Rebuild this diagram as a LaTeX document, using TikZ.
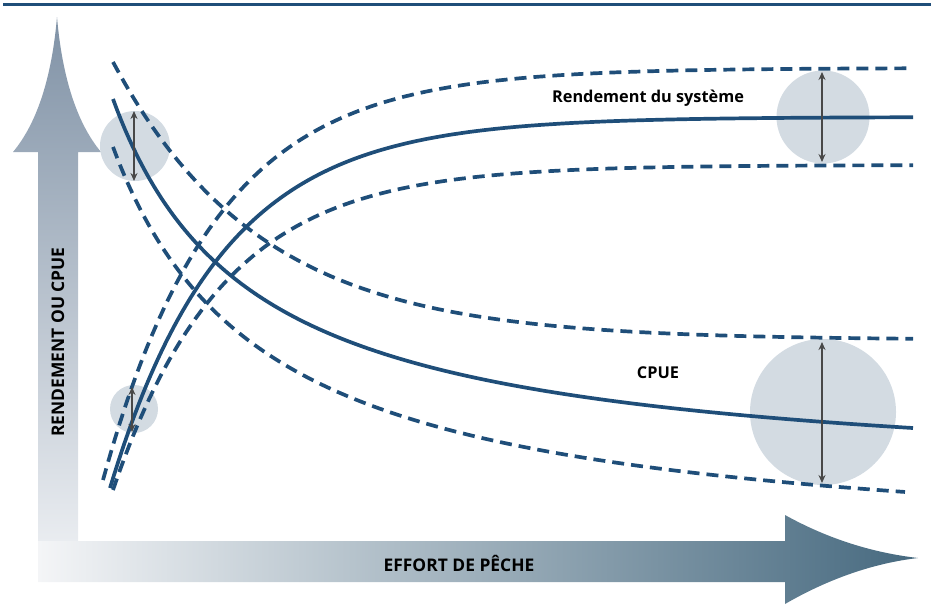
\documentclass[tikz,border=0pt]{standalone}
\usepackage{fontspec}
\setmainfont{Open Sans}
\usetikzlibrary{arrows.meta}
\definecolor{curve}{RGB}{31,78,121}
\definecolor{bubble}{RGB}{211,219,226}
\definecolor{arrgray}{RGB}{72,72,72}
\definecolor{vtop}{RGB}{128,146,166}
\definecolor{vbot}{RGB}{233,236,240}
\definecolor{hleft}{RGB}{244,245,247}
\definecolor{hmid}{RGB}{178,190,202}
\definecolor{hright}{RGB}{70,105,127}
\tikzset{
  solidcurve/.style={draw=curve,line width=3.7pt},
  dashcurve/.style={draw=curve,line width=3.7pt,dash pattern=on 12pt off 7pt},
  bubblecirc/.style={circle,fill=bubble,draw=none,inner sep=0pt},
  spread/.style={draw=arrgray,line width=1.3pt,{Stealth[length=8pt,width=7pt]}-{Stealth[length=8pt,width=7pt]}},
  curvelabel/.style={font=\bfseries\fontsize{16.3}{19}\selectfont,text=black},
  axislabel/.style={font=\bfseries\fontsize{17.4}{20}\selectfont,text=black}
}
\begin{document}
\begin{tikzpicture}[x=1pt,y=-1pt]
\useasboundingbox (0,0) rectangle (931,605);
% top rule
\fill[curve] (3,2.5) rectangle (931,6);
% vertical axis arrow
\shade[top color=vtop,bottom color=vbot]
  (13,152) .. controls (38,122) and (52,75) .. (57,17)
  .. controls (62,75) and (76,122) .. (101,152)
  -- (78,152) -- (78,541) -- (38,541) -- (38,152) -- cycle;
% horizontal axis arrow
\shade[left color=hleft,middle color=hmid,right color=hright]
  (38,541) -- (785,541) -- (785,515)
  .. controls (830,540) and (875,553) .. (918,558)
  .. controls (875,563) and (830,578) .. (785,604)
  -- (785,582) -- (38,582) -- cycle;
\node[axislabel,rotate=90] (ylab) at (58,342) {RENDEMENT OU CPUE};
\node[axislabel] (xlab) at (459,563) {EFFORT DE PÊCHE};
% bubbles
\node[bubblecirc,minimum size=70pt] (b1) at (135,146) {};
\node[bubblecirc,minimum size=48pt] (b2) at (134,409) {};
\node[bubblecirc,minimum size=93pt] (b3) at (823,117) {};
\node[bubblecirc,minimum size=146pt] (b4) at (823,412) {};
% Rendement du systeme
\draw[solidcurve] plot[domain=110:913,samples=200] (\x,{117+371*exp(-(\x-110)/112)});
\draw[dashcurve] plot[domain=103:913,samples=200] (\x,{68+412*exp(-(\x-103)/113)});
\draw[dashcurve] plot[domain=113:913,samples=200] (\x,{165+325*exp(-(\x-113)/110)});
% CPUE
\draw[solidcurve] plot[domain=113:913,samples=200] (\x,{485.7-542.38/((\x+27.26)/100)});
\draw[dashcurve] plot[domain=113:913,samples=200] (\x,{340-278*exp(-(\x-113)/148)});
\draw[dashcurve] plot[domain=113:905,samples=200] (\x,{558.5-628.64/((\x+39.75)/100)});
% spread arrows
\coordinate (a1t) at (134,111); \coordinate (a1b) at (134,181);
\coordinate (a2t) at (132,387); \coordinate (a2b) at (132,432);
\coordinate (a3t) at (822,72);  \coordinate (a3b) at (822,162);
\coordinate (a4t) at (822,342); \coordinate (a4b) at (822,483);
\draw[spread] (a1t) -- (a1b);
\draw[spread] (a2t) -- (a2b);
\draw[spread] (a3t) -- (a3b);
\draw[spread] (a4t) -- (a4b);
% labels
\node[curvelabel] (lrend) at (648,98) {Rendement du système};
\node[curvelabel] (lcpue) at (658,373) {CPUE};
\end{tikzpicture}
\end{document}
